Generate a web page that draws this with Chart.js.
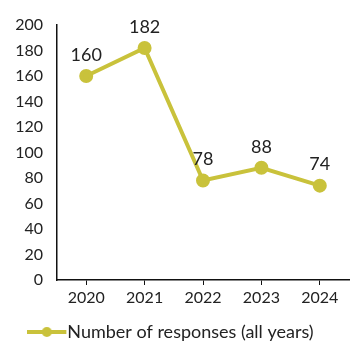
<!DOCTYPE html>
<html lang="en">
<head>
    <meta charset="UTF-8">
    <title>Number of responses</title>
    <script src="https://cdn.jsdelivr.net/npm/chart.js@4.4.1/dist/chart.umd.min.js"></script>
    <style>
        html, body { margin: 0; padding: 0; background: #fff; }
        #wrap { width: 350px; height: 345px; }
    </style>
</head>
<body>
    <div id="wrap"><canvas id="chart"></canvas></div>

    <script>
        const years = ['2020', '2021', '2022', '2023', '2024'];
        const responses = [160, 182, 78, 88, 74];
        const yTicks = [0, 20, 40, 60, 80, 100, 120, 140, 160, 180, 200];
        const seriesName = 'Number of responses (all years)';

        const lineColor = '#c9c23b';
        const textColor = '#222';

        // legend marker: short line with a dot, drawn on the left part of a wider
        // transparent canvas so the text sits right after it
        const marker = document.createElement('canvas');
        marker.width = 55;
        marker.height = 12;
        const mctx = marker.getContext('2d');
        mctx.strokeStyle = lineColor;
        mctx.lineWidth = 4;
        mctx.beginPath();
        mctx.moveTo(0, 6);
        mctx.lineTo(39, 6);
        mctx.stroke();
        mctx.fillStyle = lineColor;
        mctx.beginPath();
        mctx.arc(19.5, 6, 5, 0, Math.PI * 2);
        mctx.fill();

        // value labels above each point
        const valueLabels = {
            id: 'valueLabels',
            afterDatasetsDraw(chart) {
                const ctx = chart.ctx;
                const meta = chart.getDatasetMeta(0);
                ctx.save();
                ctx.font = '18px Lato';
                ctx.fillStyle = textColor;
                ctx.textAlign = 'center';
                ctx.textBaseline = 'middle';
                meta.data.forEach((pt, i) => {
                    ctx.fillText(String(chart.data.datasets[0].data[i]), pt.x, pt.y - 21);
                });
                ctx.restore();
            }
        };

        new Chart(document.getElementById('chart'), {
            type: 'line',
            data: {
                labels: years,
                datasets: [{
                    label: seriesName,
                    data: responses,
                    borderColor: lineColor,
                    backgroundColor: lineColor,
                    borderWidth: 4,
                    pointRadius: 5,
                    pointHoverRadius: 5,
                    pointStyle: 'circle',
                    tension: 0
                }]
            },
            options: {
                responsive: true,
                maintainAspectRatio: false,
                animation: false,
                layout: {
                    autoPadding: false,
                    padding: { left: 16, right: 1, top: 25, bottom: -6 }
                },
                plugins: {
                    tooltip: { enabled: false },
                    legend: {
                        position: 'bottom',
                        labels: {
                            usePointStyle: true,
                            pointStyleWidth: 7,
                            padding: 6,
                            color: textColor,
                            font: { family: 'Lato', size: 18 },
                            generateLabels: (chart) => [{
                                text: seriesName,
                                pointStyle: marker,
                                fillStyle: lineColor,
                                strokeStyle: lineColor,
                                lineWidth: 0,
                                fontColor: textColor,
                                datasetIndex: 0
                            }]
                        }
                    }
                },
                scales: {
                    x: {
                        offset: true,
                        border: { color: '#111', width: 1.5 },
                        grid: {
                            display: true,
                            drawOnChartArea: false,
                            drawTicks: true,
                            tickLength: 5,
                            offset: false,
                            color: '#111'
                        },
                        ticks: {
                            color: textColor,
                            padding: 3,
                            font: { family: 'Lato', size: 16 }
                        },
                        afterFit: (axis) => {
                            axis.height = 37;
                            axis.paddingLeft = 0;
                            axis.paddingRight = 0;
                        }
                    },
                    y: {
                        min: 0,
                        max: 200,
                        border: { color: '#111', width: 1.5 },
                        grid: { display: false, drawTicks: false },
                        afterBuildTicks: (axis) => {
                            axis.ticks = yTicks.map(v => ({ value: v }));
                        },
                        ticks: {
                            color: textColor,
                            padding: 14,
                            font: { family: 'Lato', size: 16 }
                        },
                        afterFit: (axis) => { axis.width = 41; }
                    }
                }
            },
            plugins: [valueLabels]
        });
    </script>
</body>
</html>
